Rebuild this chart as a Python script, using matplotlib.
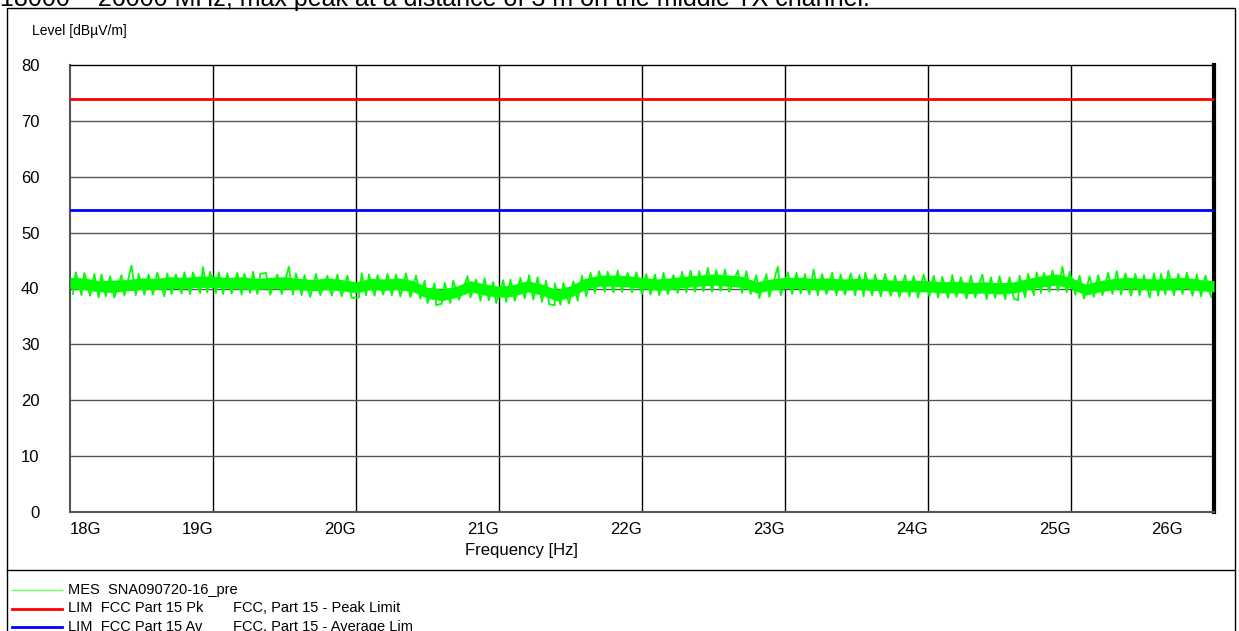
import numpy as np
import matplotlib
matplotlib.use("Agg")
import matplotlib.pyplot as plt
from matplotlib.lines import Line2D
from matplotlib.patches import Rectangle
from matplotlib.transforms import ScaledTranslation

plt.rcParams['font.family'] = ['Liberation Sans', 'DejaVu Sans']

# core band of the measured trace, one reading per 0.1 GHz from 18 to 26 GHz
trace_high = [42.0, 41.9, 41.4, 41.5, 41.6, 41.9, 41.8, 42.1, 42.0, 42.2,
              42.2, 42.0, 42.1, 41.8, 42.0, 42.1, 41.8, 41.6, 41.9, 41.6,
              41.2, 41.8, 41.7, 41.9, 41.4, 40.2, 39.9, 40.4, 41.4, 40.8,
              40.4, 40.7, 41.4, 40.8, 39.8, 40.5, 41.8, 42.4, 42.4, 42.3,
              42.0, 41.7, 41.9, 42.2, 42.4, 42.6, 42.4, 42.2, 41.2, 41.7,
              42.0, 42.0, 41.8, 41.9, 41.7, 41.8, 41.7, 41.6, 41.4, 41.5,
              41.4, 41.2, 41.3, 41.1, 41.2, 41.0, 41.2, 41.8, 42.3, 42.6,
              42.0, 40.8, 41.4, 41.8, 42.0, 41.8, 41.7, 41.9, 42.0, 41.6, 41.4]
trace_low = [40.0, 39.8, 39.4, 39.3, 39.6, 39.8, 39.8, 40.0, 40.0, 40.2,
             40.2, 40.0, 39.9, 39.8, 40.0, 39.9, 39.8, 39.6, 39.8, 39.6,
             39.2, 39.8, 39.7, 39.8, 39.4, 38.2, 37.8, 38.4, 39.4, 38.8,
             38.4, 38.6, 39.4, 38.8, 37.8, 38.4, 39.8, 40.4, 40.4, 40.3,
             40.0, 39.7, 39.8, 40.2, 40.4, 40.6, 40.4, 40.2, 39.2, 39.7,
             40.0, 40.0, 39.8, 39.8, 39.7, 39.8, 39.7, 39.6, 39.4, 39.4,
             39.4, 39.2, 39.2, 39.1, 39.2, 39.0, 39.2, 39.8, 40.3, 40.6,
             40.0, 38.8, 39.4, 39.8, 40.0, 39.8, 39.7, 39.8, 40.0, 39.6, 39.4]

# noise maxima of the trace (GHz, dBuV/m)
up_freq = [18.04, 18.10, 18.17, 18.22, 18.28, 18.36, 18.43, 18.48, 18.55, 18.61, 18.68, 18.74, 18.80, 18.86, 18.93, 18.98,
           19.04, 19.10, 19.17, 19.22, 19.28, 19.33, 19.37, 19.45, 19.53, 19.58, 19.64, 19.72, 19.80, 19.87, 19.94,
           20.04, 20.09, 20.15, 20.22, 20.28, 20.35, 20.42, 20.48, 20.55, 20.62, 20.68, 20.78, 20.84, 20.90, 20.96,
           21.03, 21.08, 21.15, 21.21, 21.27, 21.33, 21.39, 21.45, 21.52, 21.58, 21.64, 21.70, 21.76, 21.83, 21.90, 21.96,
           22.03, 22.09, 22.15, 22.22, 22.28, 22.34, 22.40, 22.46, 22.52, 22.58, 22.67, 22.73, 22.80, 22.87, 22.95,
           23.02, 23.08, 23.14, 23.20, 23.26, 23.33, 23.39, 23.46, 23.52, 23.56, 23.63, 23.70, 23.77, 23.84, 23.90, 23.97,
           24.04, 24.10, 24.17, 24.23, 24.30, 24.38, 24.44, 24.50, 24.57, 24.64, 24.70, 24.76, 24.81, 24.87, 24.94, 24.99,
           25.06, 25.13, 25.19, 25.26, 25.32, 25.38, 25.45, 25.51, 25.58, 25.63, 25.68, 25.75, 25.81, 25.88, 25.94]
up_level = [42.9, 42.8, 42.6, 42.5, 42.2, 42.4, 44.1, 42.6, 42.5, 42.8, 42.7, 42.5, 42.9, 42.9, 43.8, 43.0,
            42.9, 42.7, 42.8, 42.6, 43.0, 42.6, 42.8, 42.5, 43.9, 42.7, 42.4, 42.6, 42.3, 42.5, 42.3,
            42.7, 42.5, 42.4, 42.6, 42.5, 42.7, 42.3, 41.4, 40.9, 41.0, 41.4, 42.2, 41.6, 41.8, 41.2,
            41.5, 41.6, 41.9, 42.4, 42.0, 41.4, 40.9, 41.0, 41.3, 42.3, 42.8, 43.1, 43.0, 43.2, 42.8, 42.9,
            42.6, 42.5, 42.8, 42.4, 43.0, 43.2, 43.1, 43.7, 43.3, 43.4, 43.2, 43.1, 42.4, 42.6, 43.9,
            42.9, 42.8, 42.6, 43.4, 42.6, 42.8, 42.5, 42.7, 42.4, 42.8, 42.5, 42.6, 42.3, 42.4, 42.2, 42.5,
            42.3, 42.1, 42.4, 42.0, 42.3, 42.5, 42.0, 42.2, 42.0, 42.3, 42.6, 42.9, 42.8, 43.2, 43.9, 43.0,
            42.3, 42.2, 42.4, 42.8, 43.1, 42.7, 42.6, 42.4, 42.7, 42.6, 43.2, 42.6, 42.8, 42.5, 42.3]

# noise minima of the trace (GHz, dBuV/m)
down_freq = [18.02, 18.08, 18.14, 18.20, 18.25, 18.31, 18.38, 18.46, 18.52, 18.58, 18.66, 18.71, 18.78, 18.84, 18.91, 18.96,
             19.02, 19.07, 19.13, 19.20, 19.26, 19.31, 19.40, 19.48, 19.56, 19.62, 19.68, 19.75, 19.83, 19.90, 19.97,
             20.02, 20.07, 20.13, 20.19, 20.25, 20.31, 20.38, 20.45, 20.50, 20.56, 20.60, 20.66, 20.72, 20.80, 20.87, 20.93, 20.98,
             21.05, 21.11, 21.18, 21.24, 21.30, 21.35, 21.39, 21.43, 21.49, 21.55, 21.61, 21.67, 21.74, 21.80, 21.86, 21.93,
             22.00, 22.06, 22.12, 22.18, 22.25, 22.31, 22.37, 22.43, 22.49, 22.55, 22.61, 22.70, 22.76, 22.82, 22.89, 22.97,
             23.05, 23.11, 23.17, 23.23, 23.29, 23.36, 23.42, 23.49, 23.55, 23.61, 23.67, 23.74, 23.80, 23.87, 23.93,
             24.01, 24.07, 24.14, 24.20, 24.27, 24.33, 24.41, 24.47, 24.54, 24.60, 24.63, 24.68, 24.74, 24.79, 24.85, 24.91, 24.97,
             25.03, 25.09, 25.16, 25.22, 25.29, 25.35, 25.42, 25.48, 25.55, 25.61, 25.66, 25.72, 25.78, 25.85, 25.91, 25.98]
down_level = [39.0, 38.8, 38.7, 38.4, 38.6, 38.4, 38.7, 38.8, 38.9, 38.9, 38.6, 39.0, 39.1, 39.0, 39.2, 39.3,
              39.2, 39.0, 39.1, 38.9, 39.2, 39.0, 38.9, 39.0, 38.9, 38.8, 38.5, 38.8, 38.7, 38.6, 38.3,
              38.4, 38.8, 38.7, 38.9, 38.8, 38.6, 38.5, 38.2, 37.4, 37.0, 37.3, 37.4, 38.0, 38.4, 37.8, 37.9, 37.4,
              37.6, 37.8, 38.2, 38.0, 37.6, 37.2, 37.0, 37.1, 37.3, 37.8, 38.6, 39.2, 39.4, 39.3, 39.4, 39.3,
              39.0, 38.9, 38.8, 39.0, 39.2, 39.3, 39.4, 39.5, 39.4, 39.6, 39.4, 39.2, 39.0, 38.3, 38.5, 38.8,
              39.0, 39.1, 38.9, 38.8, 39.0, 38.8, 38.9, 38.8, 38.6, 38.8, 38.6, 38.7, 38.5, 38.6, 38.4,
              38.6, 38.4, 38.3, 38.5, 38.2, 38.4, 38.1, 38.3, 38.1, 38.2, 37.9, 38.4, 38.8, 39.2, 39.4, 39.6, 39.3,
              38.9, 38.2, 38.5, 38.8, 39.0, 38.9, 38.7, 38.8, 38.4, 38.7, 38.9, 38.8, 39.0, 38.7, 38.6, 38.5]

peak_limit = 74
avg_limit = 54

tick_ghz = [18, 19, 20, 21, 22, 23, 24, 25, 26]
tick_labels = ['18G', '19G', '20G', '21G', '22G', '23G', '24G', '25G', '26G']

title = "18000 \u2013 26000 MHz, max peak at a distance of 3 m on the middle TX channel."

W, H = 1239, 631
fig = plt.figure(figsize=(W / 100, H / 100), dpi=100)

def fx(px):
    return px / W

def fy(py):
    return 1 - py / H

ax = fig.add_axes([fx(70), fy(512), fx(1214) - fx(70), fy(65) - fy(512)])

green = '#00ff00'
freq = np.linspace(18, 26, len(trace_high)) * 1e9
ax.fill_between(freq, trace_low, trace_high, color=green, lw=0, zorder=3)

# zigzag through the noise extremes in frequency order
pts = sorted(zip(up_freq + down_freq, up_level + down_level))
zf = np.array([p[0] for p in pts]) * 1e9
zl = [p[1] for p in pts]
ax.plot(zf, zl, color=green, lw=1.3, zorder=3)

ax.axhline(peak_limit, color='#ff0000', lw=2, zorder=4)
ax.axhline(avg_limit, color='#0000ff', lw=2, zorder=4)

ax.set_xlim(18e9, 26e9)
ax.set_ylim(0, 80)
ax.set_yticks(range(0, 81, 10))
ax.set_xticks([t * 1e9 for t in tick_ghz])
ax.set_xticklabels(tick_labels)
ax.tick_params(length=0, labelsize=12)
ax.tick_params(axis='y', pad=22)
ax.tick_params(axis='x', pad=7)

for i, lab in enumerate(ax.get_xticklabels()):
    lab.set_ha('left' if i == 0 else 'right')
    if i == len(tick_labels) - 1:
        lab.set_transform(lab.get_transform() + ScaledTranslation(-31 / 100, 0, fig.dpi_scale_trans))

ax.grid(False)
for v in tick_ghz[1:-1]:
    ax.axvline(v * 1e9, color='black', lw=1, zorder=1)
for h in range(10, 80, 10):
    ax.axhline(h, color='#555555', lw=1, zorder=1)

ax.spines['left'].set_color('#555555')
ax.spines['left'].set_linewidth(1.5)
ax.spines['bottom'].set_color('#555555')
ax.spines['bottom'].set_linewidth(1.5)
ax.spines['top'].set_color('black')
ax.spines['top'].set_linewidth(1)
ax.spines['right'].set_color('black')
ax.spines['right'].set_linewidth(3)

fig.text(fx(32), fy(31), 'Level [dB\u00b5V/m]', fontsize=10, va='center', ha='left')
fig.text(fx(465), fy(550), 'Frequency [Hz]', fontsize=12, va='center', ha='left')

# outer frame and legend separator
fig.add_artist(Rectangle((fx(7), fy(640)), fx(1235) - fx(7), fy(8) - fy(640),
                         transform=fig.transFigure, fill=False, ec='black', lw=1))
fig.add_artist(Line2D([fx(7), fx(1235)], [fy(570), fy(570)], transform=fig.transFigure,
                      color='black', lw=1))

fig.text(0, fy(6), title, fontsize=18, va='baseline', ha='left')

legend_rows = [
    ('#66ff66', 1, 'MES  SNA090720-16_pre', ''),
    ('#ff0000', 2, 'LIM  FCC Part 15 Pk', 'FCC, Part 15 - Peak Limit'),
    ('#0000ff', 2, 'LIM  FCC Part 15 Av', 'FCC, Part 15 - Average Lim'),
]
for k, (col, lw, name, desc) in enumerate(legend_rows):
    y = 590 + k * 18.5
    fig.add_artist(Line2D([fx(12), fx(62)], [fy(y), fy(y)], transform=fig.transFigure,
                          color=col, lw=lw))
    fig.text(fx(68), fy(y), name, fontsize=10.5, va='center', ha='left')
    if desc:
        fig.text(fx(233), fy(y), desc, fontsize=10.5, va='center', ha='left')

fig.savefig('out.png', dpi=100)
